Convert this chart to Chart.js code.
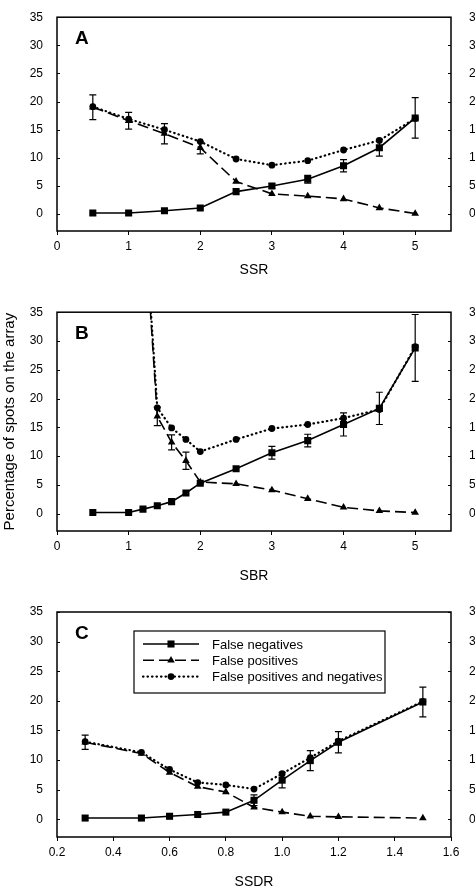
<!DOCTYPE html>
<html lang="en">
<head>
<meta charset="UTF-8">
<title>False positives / negatives vs SSR, SBR, SSDR</title>
<script src="https://cdn.jsdelivr.net/npm/chart.js@4.4.0/dist/chart.umd.min.js"></script>
<style>
  html, body { margin: 0; padding: 0; background: #fff; overflow: hidden; }
  canvas { position: absolute; left: 0; }
</style>
</head>
<body>
<canvas id="chartA" width="475" height="295" style="top:0px"></canvas>
<canvas id="chartB" width="475" height="295" style="top:295px"></canvas>
<canvas id="chartC" width="475" height="305" style="top:590px"></canvas>
<script>
// shared y ticks
const yTicks = [0, 5, 10, 15, 20, 25, 30, 35];

// panel A - SSR
const ssr = [0.5, 1, 1.5, 2, 2.5, 3, 3.5, 4, 4.5, 5];
const ssrTicks = [0, 1, 2, 3, 4, 5];
const fnA = [0.2, 0.2, 0.6, 1.1, 4.0, 5.0, 6.2, 8.6, 11.8, 17.1];
const fpA = [19.0, 16.6, 14.3, 11.8, 5.8, 3.6, 3.2, 2.7, 1.1, 0.1];
const fpnA = [19.1, 16.9, 15.0, 12.9, 9.8, 8.7, 9.5, 11.4, 13.1, 17.0];
const fnErrA = [null, null, null, null, null, 0.4, 0.7, 1.1, 1.5, 3.6];
const fpErrA = [2.2, 1.5, 1.8, 1.1, null, null, null, null, null, null];

// panel B - SBR
const sbr = [0.5, 1, 1.2, 1.4, 1.6, 1.8, 2, 2.5, 3, 3.5, 4, 4.5, 5];
const sbrTicks = [0, 1, 2, 3, 4, 5];
const fnB = [0.2, 0.2, 0.8, 1.4, 2.1, 3.6, 5.3, 7.8, 10.6, 12.7, 15.5, 18.3, 28.8];
const fpB = [null, null, 55, 16.9, 12.4, 9.2, 5.5, 5.2, 4.1, 2.6, 1.1, 0.5, 0.2];
const fpnB = [null, null, 56, 18.4, 14.9, 12.9, 10.8, 12.9, 14.8, 15.5, 16.6, 18.1, 29.0];
const fnErrB = [null, null, null, null, null, null, null, null, 1.1, 1.1, 2.0, 2.8, 5.8];
const fpErrB = [null, null, null, 1.6, 1.3, 1.5, null, null, null, null, null, null, null];

// panel C - SSDR
const ssdr = [0.3, 0.5, 0.6, 0.7, 0.8, 0.9, 1.0, 1.1, 1.2, 1.5];
const ssdrTicks = [0.2, 0.4, 0.6, 0.8, 1.0, 1.2, 1.4, 1.6];
const fnC = [0.2, 0.2, 0.5, 0.8, 1.2, 3.2, 6.6, 9.9, 13.0, 19.8];
const fpC = [13.0, 11.1, 7.9, 5.5, 4.6, 2.0, 1.2, 0.5, 0.4, 0.2];
const fpnC = [13.1, 11.3, 8.4, 6.2, 5.8, 5.1, 7.7, 10.4, 13.2, 19.9];
const fnErrC = [null, null, null, null, null, 0.9, 1.3, 1.7, 1.8, 2.5];
const fpErrC = [1.2, null, null, null, null, null, null, null, null, null];

const seriesNames = ['False negatives', 'False positives', 'False positives and negatives'];

const FONT = "'Liberation Sans', Arial, sans-serif";

function pts(xs, ys) {
    return xs.map((x, i) => ({ x: x, y: ys[i] }));
}

function drawMarker(ctx, style, r, x, y) {
    ctx.beginPath();
    if (style == 'rect') {
        const s = r * Math.SQRT1_2;
        ctx.rect(x - s, y - s, 2 * s, 2 * s);
    } else if (style == 'triangle') {
        ctx.moveTo(x, y - r);
        ctx.lineTo(x + r * 0.866, y + r * 0.5);
        ctx.lineTo(x - r * 0.866, y + r * 0.5);
        ctx.closePath();
    } else {
        ctx.arc(x, y, r, 0, Math.PI * 2);
    }
    ctx.fill();
}

// frame, inner y ticks, error bars, panel letter, legend
const extras = {
    id: 'extras',
    afterDatasetsDraw(chart, args, opts) {
        const ctx = chart.ctx;
        const a = chart.chartArea;
        const xs = chart.scales.x, ys = chart.scales.y;
        ctx.save();
        ctx.strokeStyle = '#000';
        ctx.fillStyle = '#000';

        // error bars
        ctx.lineWidth = 1.2;
        chart.data.datasets.forEach(ds => {
            if (!ds.err) return;
            ds.data.forEach((p, i) => {
                const e = ds.err[i];
                if (e == null || p.y == null) return;
                const px = xs.getPixelForValue(p.x);
                const y1 = ys.getPixelForValue(p.y + e);
                const y2 = ys.getPixelForValue(p.y - e);
                ctx.beginPath();
                ctx.moveTo(px, y1); ctx.lineTo(px, y2);
                ctx.moveTo(px - 3.5, y1); ctx.lineTo(px + 3.5, y1);
                ctx.moveTo(px - 3.5, y2); ctx.lineTo(px + 3.5, y2);
                ctx.stroke();
            });
        });

        // frame
        ctx.lineWidth = 1.5;
        ctx.strokeRect(a.left, a.top, a.right - a.left, a.bottom - a.top);

        // inward y ticks on both sides
        ctx.lineWidth = 1;
        yTicks.forEach(v => {
            const py = Math.round(ys.getPixelForValue(v)) + 0.5;
            ctx.beginPath();
            ctx.moveTo(a.left, py); ctx.lineTo(a.left + 3, py);
            ctx.moveTo(a.right - 3, py); ctx.lineTo(a.right, py);
            ctx.stroke();
        });

        // panel letter
        ctx.font = 'bold 19px ' + FONT;
        ctx.textBaseline = 'middle';
        ctx.textAlign = 'left';
        ctx.fillText(opts.letter, a.left + 18, a.top + 22);

        // legend box (panel C)
        if (opts.legend) {
            const lx = a.left + 77, ly = a.top + 19, lw = 251, lh = 62;
            ctx.lineWidth = 1.2;
            ctx.strokeRect(lx, ly, lw, lh);
            ctx.font = '13px ' + FONT;
            chart.data.datasets.forEach((ds, i) => {
                const ry = ly + 13 + i * 16.3;
                ctx.save();
                ctx.lineWidth = ds.borderWidth;
                ctx.setLineDash(ds.borderDash || []);
                ctx.lineCap = ds.borderCapStyle || 'butt';
                ctx.beginPath();
                ctx.moveTo(lx + 9, ry); ctx.lineTo(lx + 65, ry);
                ctx.stroke();
                ctx.restore();
                drawMarker(ctx, ds.pointStyle, ds.pointRadius, lx + 37, ry);
                ctx.fillText(ds.label, lx + 78, ry + 1);
            });
        }
        ctx.restore();
    }
};

function makeChart(id, cfg) {
    const datasets = [
        {
            label: seriesNames[0], data: pts(cfg.xs, cfg.fn), err: cfg.fnErr,
            borderColor: '#000', backgroundColor: '#000', borderWidth: 1.6,
            pointStyle: 'rect', pointRadius: 5
        },
        {
            label: seriesNames[1], data: pts(cfg.xs, cfg.fp), err: cfg.fpErr,
            borderColor: '#000', backgroundColor: '#000', borderWidth: 1.6,
            borderDash: [11, 5], pointStyle: 'triangle', pointRadius: 4.4
        },
        {
            label: seriesNames[2], data: pts(cfg.xs, cfg.fpn),
            borderColor: '#000', backgroundColor: '#000', borderWidth: 2.2,
            borderDash: [0.5, 4], borderCapStyle: 'round', pointStyle: 'circle', pointRadius: 3.4
        }
    ];
    datasets.forEach(d => { d.pointBorderWidth = 0; d.tension = 0; d.fill = false; });

    const yScale = (pos, width, showTitle) => ({
        type: 'linear', position: pos, min: -3, max: 35,
        afterBuildTicks: s => { s.ticks = yTicks.map(v => ({ value: v })); },
        afterFit: s => { s.width = width; },
        grid: { display: false },
        border: { display: false },
        ticks: {
            color: '#000', padding: pos == 'left' ? 6 : 10,
            font: { family: FONT, size: 12 }
        },
        title: {
            display: showTitle, text: 'Percentage of spots on the array',
            color: '#000', font: { family: FONT, size: 15 }, padding: { top: 1, bottom: 0 }
        }
    });

    return new Chart(id, {
        type: 'line',
        data: { datasets: datasets },
        options: {
            responsive: false,
            animation: false,
            layout: { padding: { top: cfg.padTop, bottom: cfg.padBottom, left: 0, right: 0 } },
            scales: {
                x: {
                    type: 'linear', position: 'bottom', min: cfg.xMin, max: cfg.xMax,
                    afterBuildTicks: s => { s.ticks = cfg.xTicks.map(v => ({ value: v })); },
                    afterFit: s => { s.height = cfg.xHeight; },
                    grid: { drawOnChartArea: false, drawTicks: true, tickLength: 4, color: '#000', lineWidth: 1 },
                    border: { display: false },
                    ticks: {
                        color: '#000', padding: 4, maxRotation: 0,
                        font: { family: FONT, size: 12 },
                        callback: v => cfg.decimals ? v.toFixed(1) : String(v)
                    },
                    title: {
                        display: true, text: cfg.xTitle, color: '#000',
                        font: { family: FONT, size: 14 }, padding: 0
                    }
                },
                y: yScale('left', 57, cfg.yTitle),
                y2: yScale('right', 24, false)
            },
            plugins: {
                legend: { display: false },
                tooltip: { enabled: false },
                extras: { letter: cfg.letter, legend: cfg.legend }
            }
        },
        plugins: [extras]
    });
}

makeChart('chartA', {
    xs: ssr, fn: fnA, fp: fpA, fpn: fpnA, fnErr: fnErrA, fpErr: fpErrA,
    xMin: 0, xMax: 5.5, xTicks: ssrTicks, xTitle: 'SSR', letter: 'A',
    padTop: 6, padBottom: 16, xHeight: 48, yTitle: false, legend: false
});

makeChart('chartB', {
    xs: sbr, fn: fnB, fp: fpB, fpn: fpnB, fnErr: fnErrB, fpErr: fpErrB,
    xMin: 0, xMax: 5.5, xTicks: sbrTicks, xTitle: 'SBR', letter: 'B',
    padTop: 11, padBottom: 5, xHeight: 54, yTitle: true, legend: false
});

makeChart('chartC', {
    xs: ssdr, fn: fnC, fp: fpC, fpn: fpnC, fnErr: fnErrC, fpErr: fpErrC,
    xMin: 0.2, xMax: 1.6, xTicks: ssdrTicks, xTitle: 'SSDR', letter: 'C', decimals: true,
    padTop: 22, padBottom: 4, xHeight: 54, yTitle: false, legend: true
});
</script>
</body>
</html>
